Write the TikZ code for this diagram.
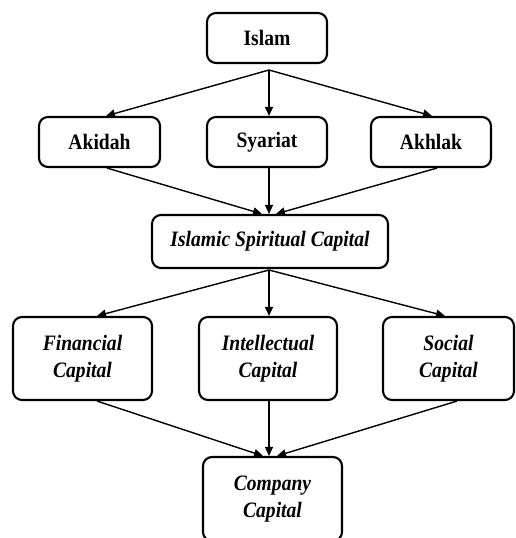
\documentclass[tikz,border=0pt]{standalone}
\usepackage{fontspec}
\setmainfont[FakeStretch=0.89]{Liberation Serif}
\usetikzlibrary{arrows.meta,calc}
\begin{document}
\begin{tikzpicture}[x=1pt,y=-1pt,
  box/.style={draw,line width=2.1pt,rounded corners=9pt,align=center,inner sep=0pt,
    font=\fontsize{22}{27}\selectfont\bfseries},
  ibox/.style={box,font=\fontsize{22}{27}\selectfont\bfseries\itshape},
  arr/.style={line width=1.4pt,-{Triangle[length=9pt,width=8pt]}}]
\clip (0,0) rectangle (515,538);
\node[box,minimum width=120pt,minimum height=50pt] (islam) at (267,38) {Islam};
\node[box,minimum width=121pt,minimum height=50pt] (akidah) at (99.5,142) {Akidah};
\node[box,minimum width=120pt,minimum height=50pt] (syariat) at (267,142) {Syariat};
\node[box,minimum width=120pt,minimum height=50pt] (akhlak) at (431,142) {Akhlak};
\node[ibox,minimum width=236pt,minimum height=53pt] (isc) at (270,241.5) {Islamic Spiritual Capital};
\node[ibox,minimum width=139pt,minimum height=83pt] (fin) at (82.5,358.5) {Financial\\Capital};
\node[ibox,minimum width=138pt,minimum height=83pt] (int) at (268,358.5) {Intellectual\\Capital};
\node[ibox,minimum width=131pt,minimum height=83pt] (soc) at (448.5,358.5) {Social\\Capital};
\node[ibox,minimum width=139pt,minimum height=84pt] (comp) at (272.5,499) {Company\\Capital};
\coordinate (isplit) at (269,70);
\coordinate (csplit) at (269,270);
\draw[arr] (isplit) -- ($(akidah.north)+(6.5,0)$);
\draw[arr] (isplit) -- ($(syariat.north)+(2,0)$);
\draw[arr] (isplit) -- ($(akhlak.north)+(1,0)$);
\draw[arr] ($(akidah.south)+(7.5,0)$) -- ($(isc.north)+(-8,0)$);
\draw[arr] ($(syariat.south)+(2,0)$) -- ($(isc.north)+(-1,0)$);
\draw[arr] ($(akhlak.south)+(6,0)$) -- ($(isc.north)+(6,0)$);
\draw[arr] (csplit) -- ($(fin.north)+(14.5,0)$);
\draw[arr] (csplit) -- ($(int.north)+(1,0)$);
\draw[arr] (csplit) -- ($(soc.north)+(-3.5,0)$);
\draw[arr] ($(fin.south)+(14.5,0)$) -- ($(comp.north)+(-9.5,0)$);
\draw[arr] ($(int.south)+(1,0)$) -- ($(comp.north)+(-3.5,0)$);
\draw[arr] ($(soc.south)+(8.5,0)$) -- ($(comp.north)+(4.5,0)$);
\end{tikzpicture}
\end{document}
